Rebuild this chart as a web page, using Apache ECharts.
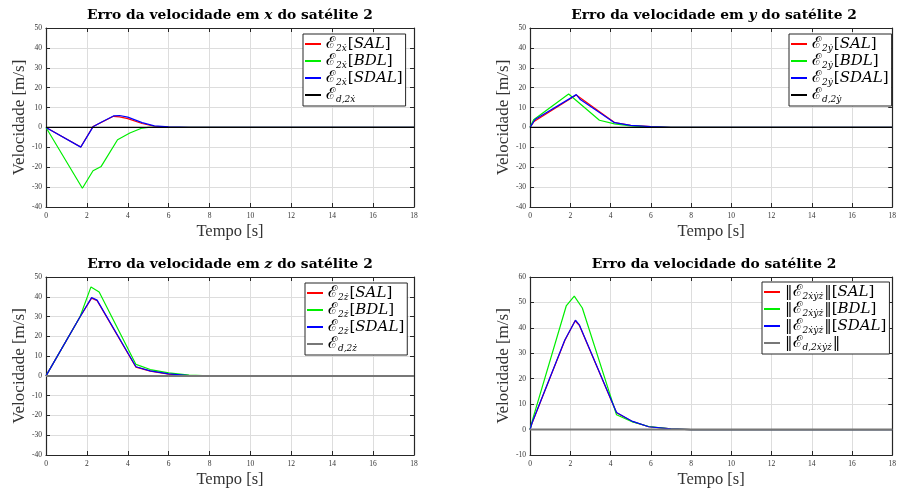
<!DOCTYPE html>
<html><head><meta charset="utf-8">
<script src="https://cdn.jsdelivr.net/npm/echarts@6/dist/echarts.min.js"></script>
<style>html,body{margin:0;padding:0;background:#fff}#c{width:899px;height:489px}</style>
</head><body><div id="c"></div>
<script>
// ---- Data (time [s], velocity error [m/s]) ----
const xTicks = [0,2,4,6,8,10,12,14,16,18];
const xSAL  = [[0,0],[1.7,-9.8],[2.3,0.5],[2.7,2.5],[3.3,5.6],[3.6,5.3],[4.0,4.4],[4.7,2.0],[5.3,0.6],[6,0.2],[7,0],[18,0]];
const xBDL  = [[0,0],[1.78,-30.6],[2.3,-21.8],[2.7,-19.6],[3.5,-6.2],[4.1,-2.8],[4.7,-0.3],[5,0],[18,0]];
const xSDAL = [[0,0],[1.7,-9.9],[2.3,0.3],[2.7,2.6],[3.3,5.8],[3.6,6.0],[4.0,5.2],[4.7,2.4],[5.3,0.8],[6,0.3],[7,0],[18,0]];
const xD    = [[0,0],[18,0]];

const ySAL  = [[0,0],[0.2,3.0],[2.3,16.3],[4.2,2.5],[5,1.0],[6,0.4],[7,0.1],[8,0],[18,0]];
const yBDL  = [[0,0],[0.18,3.9],[1.92,16.8],[3.45,3.6],[4.2,1.8],[5,0.8],[6,0.3],[7,0],[18,0]];
const ySDAL = [[0,0],[0.25,4.0],[2.3,16.5],[2.5,14.0],[4.2,2.4],[5,1.0],[6,0.4],[7,0.1],[8,0],[18,0]];
const yD    = [[0,0],[18,0]];

const zSAL  = [[0,0],[1.66,29.8],[2.23,39.3],[2.5,38.0],[4.4,4.4],[5.1,2.4],[6,0.9],[7,0.2],[8,0],[18,0]];
const zBDL  = [[0,0],[1.66,29.8],[2.2,45.0],[2.6,42.4],[4.4,5.8],[5.1,3.2],[6,1.5],[7,0.4],[8,0],[18,0]];
const zSDAL = [[0,0],[1.66,29.8],[2.23,39.6],[2.5,38.3],[4.4,4.6],[5.1,2.5],[6,1.0],[7,0.2],[8,0],[18,0]];
const zD    = [[0,0],[18,0]];

const nSAL  = [[0,0],[0.1,2.5],[1.73,35.0],[2.24,42.8],[2.45,41.0],[4.3,6.6],[5.1,3.1],[5.9,1.1],[7,0.3],[8,0],[18,0]];
const nBDL  = [[0,0],[0.15,4.5],[1.8,48.6],[2.2,52.5],[2.6,47.8],[4.3,5.8],[5.1,3.0],[5.9,1.2],[7,0.3],[8,0],[18,0]];
const nSDAL = [[0,0],[0.1,2.6],[1.73,35.2],[2.26,43.0],[2.45,41.2],[4.3,6.7],[5.1,3.2],[5.9,1.1],[7,0.3],[8,0],[18,0]];
const nD    = [[0,0],[18,0]];

const titles = [
  ['Erro da velocidade em ', 'x', ' do satélite 2'],
  ['Erro da velocidade em ', 'y', ' do satélite 2'],
  ['Erro da velocidade em ', 'z', ' do satélite 2'],
  ['Erro da velocidade do satélite 2', '', '']
];
const yRanges = [[-40,50],[-40,50],[-40,50],[-10,60]];
const subs = ['2ẋ','2ẏ','2ż','2ẋẏż'];
const subsD = ['d,2ẋ','d,2ẏ','d,2ż','d,2ẋẏż'];
const methods = ['SAL','BDL','SDAL'];
const dataSets = [[xSAL,xBDL,xSDAL,xD],[ySAL,yBDL,ySDAL,yD],[zSAL,zBDL,zSDAL,zD],[nSAL,nBDL,nSDAL,nD]];

// ---- Layout / style ----
const SERIF = '"Liberation Serif","DejaVu Serif",serif';
const DSERIF = '"DejaVu Serif",serif';
const grids = [
  {left:46, top:28, width:368, height:179},
  {left:530, top:28, width:368, height:179},
  {left:46, top:277, width:368, height:178},
  {left:530, top:277, width:368, height:178}
];
const legendPos = [[303,34],[789,34],[305,283],[762,282]];
const colors = ['#ff0000','#00ee00','#0000ff'];
const dColors = ['#000000','#000000','#777777','#777777'];
const dWidths = [1.3,1.3,2,2];

const chart = echarts.init(document.getElementById('c'));
const xAxes = [], yAxes = [], series = [], legends = [], titleOpts = [];
const axisCol = '#262626';

grids.forEach((g, i) => {
  const common = {type:'value', gridIndex:i};
  xAxes.push(Object.assign({}, common, {
    min:0, max:18, interval:2, position:'bottom',
    name:'Tempo [s]', nameLocation:'middle', nameGap:16,
    nameTextStyle:{fontFamily:SERIF, fontSize:16.5, color:'#333'},
    axisLine:{show:true, onZero:false, lineStyle:{color:axisCol, width:1.2}},
    axisTick:{show:true, inside:true, length:4, lineStyle:{color:axisCol}},
    axisLabel:{fontFamily:SERIF, fontSize:7.5, color:'#333', margin:5},
    splitLine:{show:true, lineStyle:{color:'#dddddd', width:1}}
  }));
  xAxes.push(Object.assign({}, common, {
    min:0, max:18, interval:2, position:'top',
    axisLine:{show:true, onZero:false, lineStyle:{color:axisCol, width:1.2}},
    axisTick:{show:true, inside:true, length:4, lineStyle:{color:axisCol}},
    axisLabel:{show:false}, splitLine:{show:false}
  }));
  const yr = yRanges[i];
  yAxes.push(Object.assign({}, common, {
    min:yr[0], max:yr[1], interval:10, position:'left',
    name:'Velocidade [m/s]', nameLocation:'middle', nameGap:17,
    nameTextStyle:{fontFamily:SERIF, fontSize:17, color:'#333'},
    axisLine:{show:true, onZero:false, lineStyle:{color:axisCol, width:1.2}},
    axisTick:{show:true, inside:true, length:4, lineStyle:{color:axisCol}},
    axisLabel:{fontFamily:SERIF, fontSize:7.5, color:'#333', margin:4},
    splitLine:{show:true, lineStyle:{color:'#dddddd', width:1}}
  }));
  yAxes.push(Object.assign({}, common, {
    min:yr[0], max:yr[1], interval:10, position:'right',
    axisLine:{show:true, onZero:false, lineStyle:{color:axisCol, width:1.2}},
    axisTick:{show:true, inside:true, length:4, lineStyle:{color:axisCol}},
    axisLabel:{show:false}, splitLine:{show:false}
  }));

  const names = [];
  const ds = dataSets[i];
  methods.forEach((m, k) => {
    const nm = 'p' + i + '_' + m;
    names.push(nm);
    series.push({
      name:nm, type:'line', xAxisIndex:2*i, yAxisIndex:2*i, data:ds[k],
      showSymbol:false, symbol:'none', animation:false,
      lineStyle:{color:colors[k], width:1.2}, itemStyle:{color:colors[k]}
    });
  });
  const nmD = 'p' + i + '_D';
  names.push(nmD);
  series.push({
    name:nmD, type:'line', xAxisIndex:2*i, yAxisIndex:2*i, data:ds[3],
    showSymbol:false, symbol:'none', animation:false,
    lineStyle:{color:dColors[i], width:dWidths[i]}, itemStyle:{color:dColors[i]}
  });

  const norm = (i === 3);
  legends.push({
    data:names, orient:'vertical', left:legendPos[i][0], top:legendPos[i][1],
    backgroundColor:'#fff', borderColor:'#262626', borderWidth:1,
    padding:[2,3,2,2], itemGap:0, itemWidth:16, itemHeight:2, icon:'rect',
    selectedMode:false,
    formatter: function(name){
      const parts = name.split('_');
      const m = parts[1];
      if (m === 'D') {
        return norm ? '{n|‖}{e|ℰ}{s|' + subsD[i] + '}{n|‖}' : '{e|ℰ}{s|' + subsD[i] + '}';
      }
      return norm ? '{n|‖}{e|ℰ}{s|' + subs[i] + '}{n|‖[}{t|' + m + '}{n|]}'
                  : '{e|ℰ}{s|' + subs[i] + '}{n|[}{t|' + m + '}{n|]}';
    },
    textStyle:{
      fontFamily:DSERIF, fontSize:15, color:'#000',
      rich:{
        e:{fontFamily:DSERIF, fontSize:16, color:'#000', height:19},
        s:{fontFamily:DSERIF, fontStyle:'italic', fontSize:9, color:'#000', padding:[9,1,0,0]},
        n:{fontFamily:DSERIF, fontSize:15, color:'#000', height:19},
        t:{fontFamily:DSERIF, fontStyle:'italic', fontSize:15, color:'#000', height:19}
      }
    }
  });

  const t = titles[i];
  const cx = g.left + g.width/2;
  const ty = g.top - 20;
  titleOpts.push({
    text: t[1] ? '{b|' + t[0] + '}{i|' + t[1] + '}{b|' + t[2] + '}' : '{b|' + t[0] + '}',
    left: cx, top: ty, textAlign:'center', padding:0,
    textStyle:{
      rich:{
        b:{fontFamily:DSERIF, fontWeight:'bold', fontSize:13.8, color:'#000'},
        i:{fontFamily:DSERIF, fontStyle:'italic', fontSize:13.8, color:'#000'}
      }
    }
  });
});

chart.setOption({
  animation:false,
  backgroundColor:'#fff',
  title:titleOpts,
  grid:grids,
  xAxis:xAxes,
  yAxis:yAxes,
  legend:legends,
  series:series
});
</script></body></html>
